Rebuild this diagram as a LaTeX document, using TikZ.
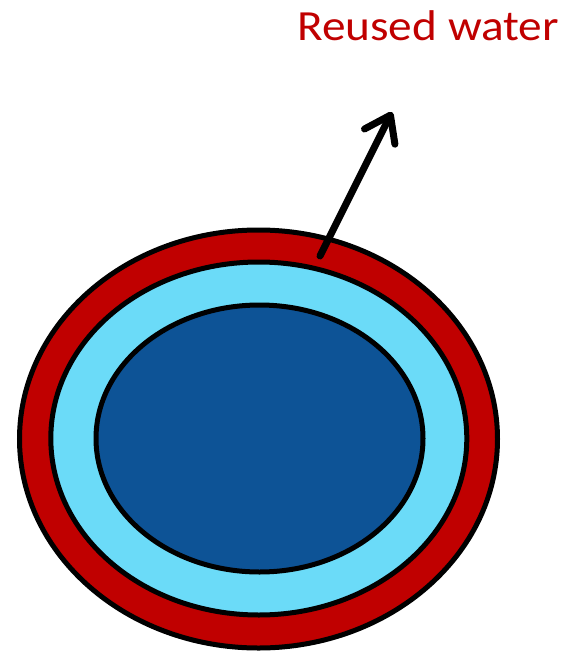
\documentclass[tikz,border=0pt]{standalone}
\usepackage{fontspec}
\setmainfont{Carlito}
\usetikzlibrary{shapes.geometric,arrows.meta}
\definecolor{ringred}{HTML}{C00000}
\definecolor{lightwater}{HTML}{6BDBF8}
\definecolor{deepwater}{HTML}{0D5396}
\definecolor{labelred}{HTML}{C00000}
\tikzset{
  layer/.style={ellipse, draw=black, line width=5pt, inner sep=0pt},
  flowarrow/.style={draw=black, line width=7pt, line cap=round,
    -{Straight Barb[length=24pt, width=34pt, round]}},
  labeltext/.style={text=labelred, font=\fontsize{43pt}{50pt}\selectfont, inner sep=0pt, xscale=1.1}
}
\begin{document}
\begin{tikzpicture}[x=1pt,y=-1pt]
\useasboundingbox (0,0) rectangle (567,651);
\node[layer, fill=ringred, minimum width=478pt, minimum height=418pt] (outer) at (258.5,439) {};
\node[layer, fill=lightwater, minimum width=416pt, minimum height=353pt] (middle) at (258.8,438.5) {};
\node[layer, fill=deepwater, minimum width=327pt, minimum height=267pt] (inner) at (259.5,438.5) {};
\coordinate (tail) at (320,256);
\coordinate (tip) at (392,112);
\draw[flowarrow] (tail) -- (tip);
\node[labeltext, anchor=base west] (label) at (297,40) {Reused water};
\end{tikzpicture}
\end{document}
